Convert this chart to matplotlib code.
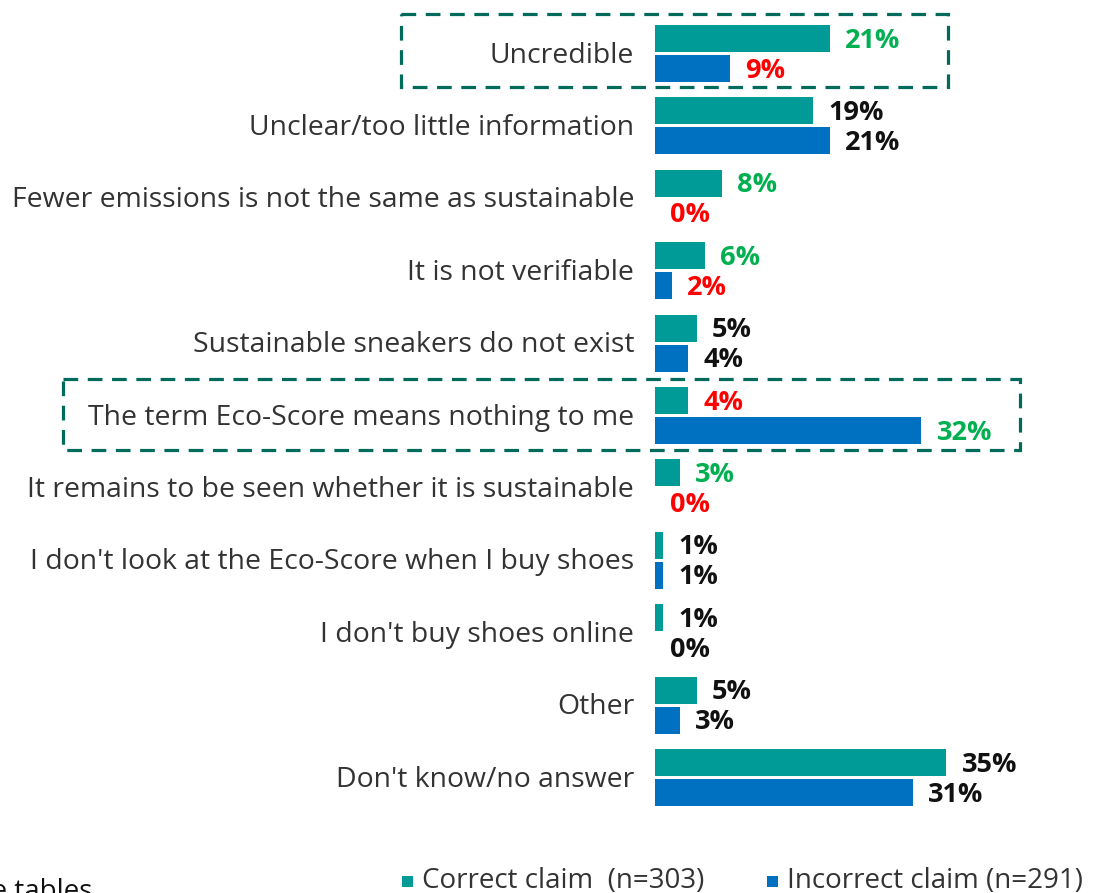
import matplotlib
matplotlib.use("Agg")
import matplotlib.pyplot as plt
from matplotlib.patches import Rectangle
from matplotlib.transforms import blended_transform_factory

plt.rcParams['font.family'] = ['Open Sans', 'DejaVu Sans']

categories = [
    "Uncredible",
    "Unclear/too little information",
    "Fewer emissions is not the same as sustainable",
    "It is not verifiable",
    "Sustainable sneakers do not exist",
    "The term Eco-Score means nothing to me",
    "It remains to be seen whether it is sustainable",
    "I don't look at the Eco-Score when I buy shoes",
    "I don't buy shoes online",
    "Other",
    "Don't know/no answer",
]
correct_vals = [21, 19, 8, 6, 5, 4, 3, 1, 1, 5, 35]
incorrect_vals = [9, 21, 0, 2, 4, 32, 0, 1, 0, 3, 31]

# label colour codes: k = neutral, g = higher, r = lower
correct_tone = ["g", "k", "g", "g", "k", "r", "g", "k", "k", "k", "k"]
incorrect_tone = ["r", "k", "r", "r", "k", "g", "r", "k", "k", "k", "k"]

series_names = ["Correct claim  (n=303)", "Incorrect claim (n=291)"]
highlighted = [0, 5]

TEAL = "#009A97"
BLUE = "#0070C0"
TONES = {"k": "#111111", "g": "#00B050", "r": "#FF0000"}
TEXT = "#333333"
BOX = "#006B5A"

W, H = 1094, 893
fig = plt.figure(figsize=(W / 100, H / 100), dpi=100)
ax = fig.add_axes([655 / W, 1 - 813.7 / H, 333 / W, (813.7 - 17.3) / H])

n = len(categories)
ypos = list(range(n))
off = 0.207
bh = 0.373

ax.barh([y - off for y in ypos], correct_vals, height=bh, color=TEAL, linewidth=0)
ax.barh([y + off for y in ypos], incorrect_vals, height=bh, color=BLUE, linewidth=0)

ax.set_xlim(0, 40)
ax.set_ylim(n - 0.5, -0.5)
ax.axis("off")

VAL_FS = 19.5
for y, v, t in zip(ypos, correct_vals, correct_tone):
    ax.annotate(f"{v}%", (v, y - off), xytext=(11, -1.5), textcoords="offset points",
                ha="left", va="center", fontsize=VAL_FS, fontweight="bold", color=TONES[t])
for y, v, t in zip(ypos, incorrect_vals, incorrect_tone):
    ax.annotate(f"{v}%", (v, y + off), xytext=(11, -1.5), textcoords="offset points",
                ha="left", va="center", fontsize=VAL_FS, fontweight="bold", color=TONES[t])

for y, c in zip(ypos, categories):
    ax.annotate(c, (0, y), xytext=(-15, -1.5), textcoords="offset points",
                ha="right", va="center", fontsize=20.4, color=TEXT)

# dashed frames around the highlighted answers
tr = blended_transform_factory(fig.transFigure, ax.transData)
frames = {0: (401, 948, -0.54, 0.46), 5: (63, 1020, -0.5, 0.48)}
for idx in highlighted:
    x0, x1, d0, d1 = frames[idx]
    rect = Rectangle((x0 / W, idx + d0), (x1 - x0) / W, d1 - d0, transform=tr,
                     fill=False, edgecolor=BOX, linewidth=2.3,
                     linestyle=(0, (4.6, 3.0)), clip_on=False)
    fig.add_artist(rect)

# legend
leg_y = 1 - 881 / H
for x_sq, color, name in [(402, TEAL, series_names[0]), (767, BLUE, series_names[1])]:
    fig.add_artist(Rectangle((x_sq / W, leg_y - 5.5 / H), 11 / W, 11 / H,
                             transform=fig.transFigure, color=color, linewidth=0))
    fig.text((x_sq + 20) / W, leg_y, name, ha="left", va="center",
             fontsize=20, color=TEXT)

fig.text(92 / W, -6 / H, "see tables", ha="right", va="baseline",
         fontsize=20, color="#111111")

fig.savefig("out.png", dpi=100)
